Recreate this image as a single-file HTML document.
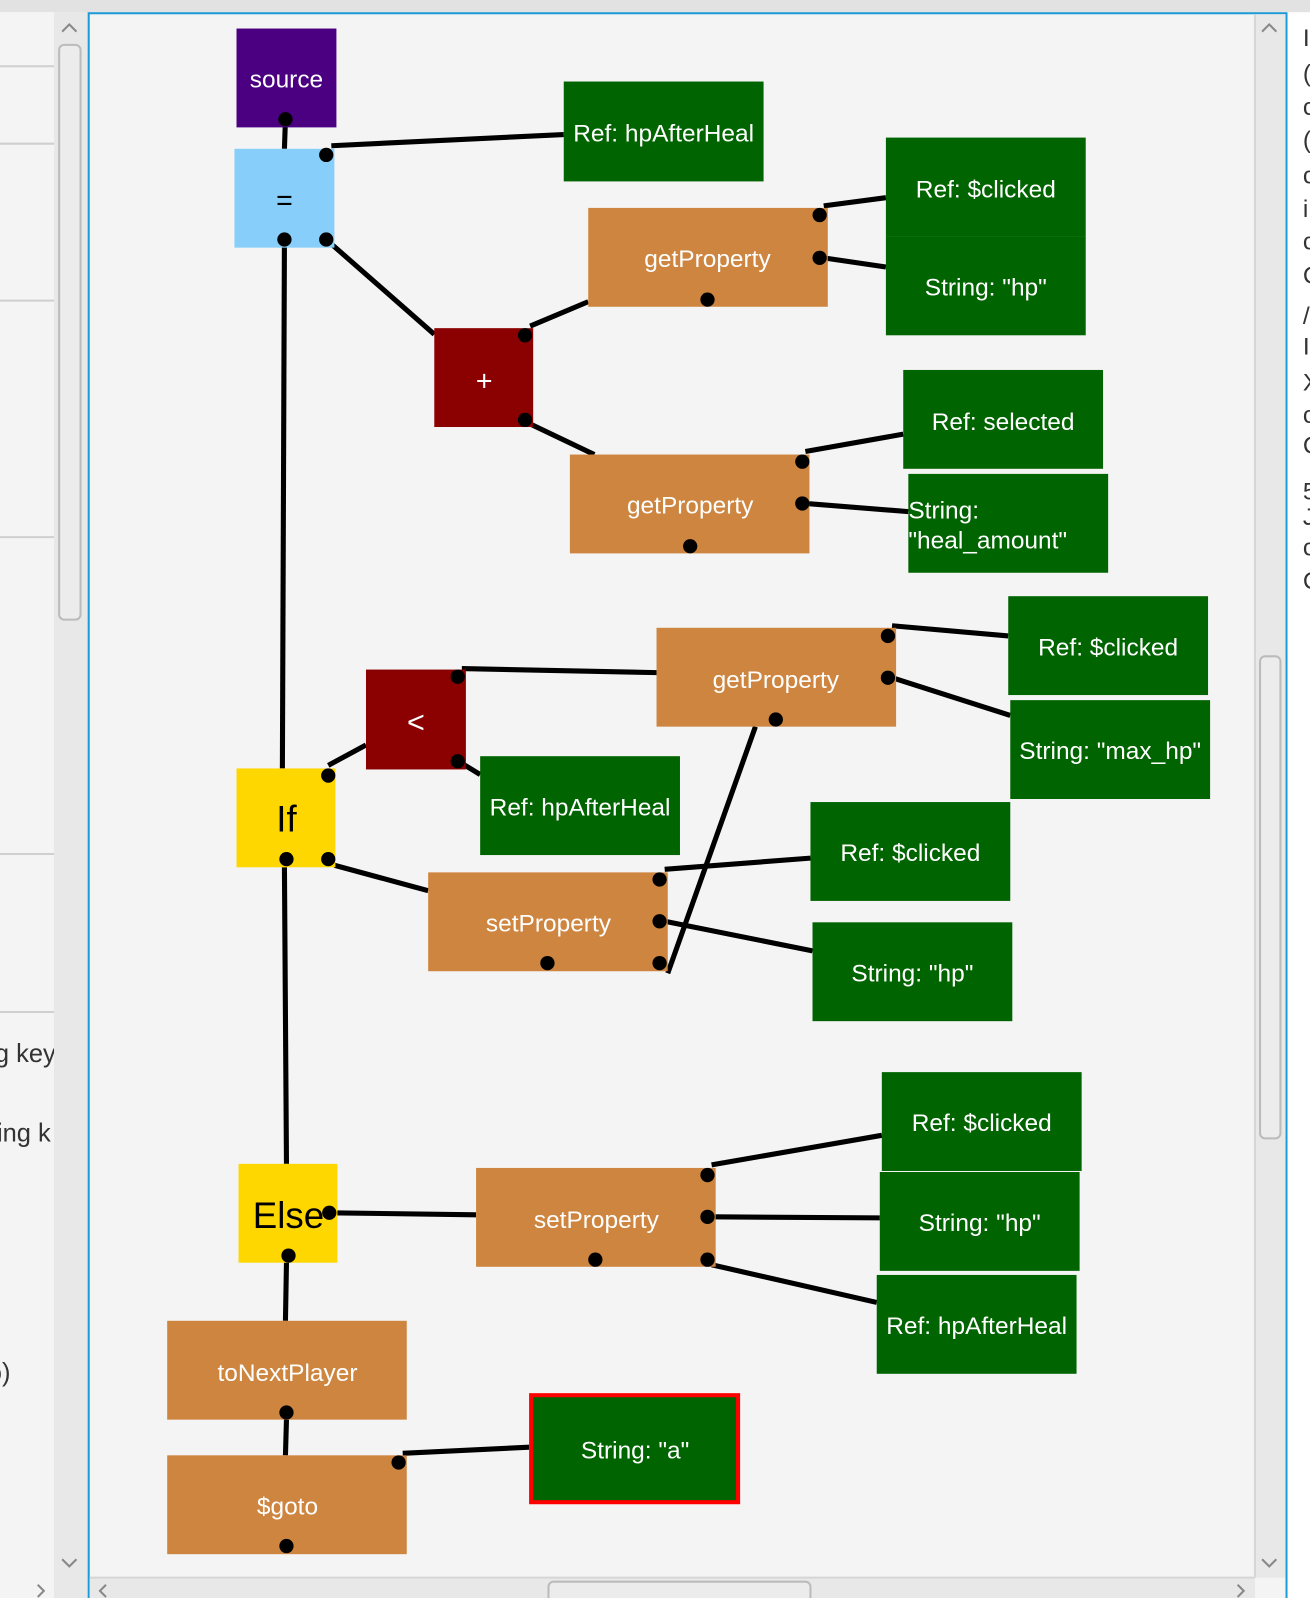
<!DOCTYPE html>
<html><head><meta charset="utf-8"><style>
html,body{margin:0;padding:0;background:#f4f4f4;overflow:hidden}
svg{display:block}
text{font-family:"Liberation Sans","DejaVu Sans",sans-serif}
</style></head><body>
<svg width="1310" height="1598" viewBox="0 0 1285 1568" preserveAspectRatio="none" xmlns="http://www.w3.org/2000/svg">
<rect x="0" y="0" width="1285" height="1568" fill="#f4f4f4"/>
<rect x="0" y="0" width="1285" height="12" fill="#e2e2e2"/>
<rect x="0" y="12" width="55" height="1556" fill="#f4f4f4"/>
<g stroke="#cfcfcf" stroke-width="2">
<line x1="0" y1="65" x2="55" y2="65"/><line x1="0" y1="141" x2="55" y2="141"/>
<line x1="0" y1="295" x2="55" y2="295"/><line x1="0" y1="527" x2="55" y2="527"/>
<line x1="0" y1="838" x2="55" y2="838"/><line x1="0" y1="993" x2="55" y2="993"/>
</g>
<g font-size="25" fill="#333">
<text x="-5" y="1042">g key</text>
<text x="-3" y="1120">ing k</text>
<text x="-12" y="1355">o)</text>
</g>
<rect x="53" y="12" width="33" height="1556" fill="#e8e8e8"/>
<rect x="58" y="44" width="21" height="564" rx="5" fill="#ececec" stroke="#bbb" stroke-width="2"/>
<path d="M61 31 L68 24 L75 31" fill="none" stroke="#888" stroke-width="2"/>
<path d="M61 1530 L68 1537 L75 1530" fill="none" stroke="#888" stroke-width="2"/>
<path d="M37 1555 L43 1561 L37 1567" fill="none" stroke="#888" stroke-width="2"/>
<rect x="87" y="13" width="1175" height="1560" fill="#f4f4f4" stroke="#1a9ad6" stroke-width="2"/>
<rect x="1231" y="14" width="30" height="1534" fill="#e8e8e8"/>
<line x1="1231" y1="14" x2="1231" y2="1548" stroke="#d6d6d6" stroke-width="2"/>
<rect x="1236" y="644" width="20" height="473" rx="5" fill="#ececec" stroke="#bbb" stroke-width="2"/>
<path d="M1238 31 L1245 24 L1252 31" fill="none" stroke="#888" stroke-width="2"/>
<path d="M1238 1530 L1245 1537 L1252 1530" fill="none" stroke="#888" stroke-width="2"/>
<rect x="88" y="1548" width="1143" height="20" fill="#e8e8e8"/>
<line x1="88" y1="1548" x2="1231" y2="1548" stroke="#d6d6d6" stroke-width="2"/>
<rect x="538" y="1552" width="257" height="20" rx="5" fill="#ececec" stroke="#bbb" stroke-width="2"/>
<path d="M104 1555 L98 1561 L104 1567" fill="none" stroke="#888" stroke-width="2"/>
<path d="M1214 1555 L1220 1561 L1214 1567" fill="none" stroke="#888" stroke-width="2"/>
<rect x="1263" y="12" width="22" height="1556" fill="#ffffff"/>
<g font-size="24" fill="#333">
<text x="1278" y="45">I</text><text x="1278" y="80">(</text><text x="1278" y="113">c</text>
<text x="1278" y="145">(</text><text x="1278" y="180">c</text><text x="1278" y="213">i</text>
<text x="1278" y="245">c</text><text x="1278" y="278">C</text><text x="1278" y="318">/</text>
<text x="1278" y="348">I</text><text x="1278" y="383">X</text><text x="1278" y="415">c</text>
<text x="1278" y="445">C</text><text x="1278" y="490">5</text><text x="1278" y="515">J</text>
<text x="1278" y="545">c</text><text x="1278" y="578">C</text>
</g>

<g stroke="#000" stroke-width="5" fill="none" stroke-linecap="butt">
<line x1="280" y1="117" x2="279" y2="146"/>
<line x1="325" y1="143" x2="553" y2="132"/>
<line x1="320" y1="235" x2="426" y2="328"/>
<line x1="279" y1="235" x2="277" y2="754"/>
<line x1="520" y1="320" x2="577" y2="296"/>
<line x1="520" y1="416" x2="583" y2="446"/>
<line x1="808" y1="202" x2="869" y2="194"/>
<line x1="808" y1="253" x2="869" y2="262"/>
<line x1="790" y1="443" x2="886" y2="426"/>
<line x1="790" y1="494" x2="891" y2="502"/>
<line x1="453" y1="656" x2="644" y2="660"/>
<line x1="453" y1="749" x2="471" y2="760"/>
<line x1="322" y1="751" x2="359" y2="731"/>
<line x1="875" y1="614" x2="989" y2="624"/>
<line x1="875" y1="665" x2="991" y2="702"/>
<line x1="741" y1="713" x2="655" y2="955"/>
<line x1="328" y1="849" x2="420" y2="874"/>
<line x1="652" y1="853" x2="795" y2="842"/>
<line x1="652" y1="904" x2="797" y2="933"/>
<line x1="279" y1="851" x2="281" y2="1142"/>
<line x1="323" y1="1190" x2="467" y2="1192"/>
<line x1="698" y1="1143" x2="865" y2="1114"/>
<line x1="698" y1="1194" x2="863" y2="1195"/>
<line x1="698" y1="1241" x2="860" y2="1278"/>
<line x1="281" y1="1239" x2="280" y2="1296"/>
<line x1="281" y1="1393" x2="280" y2="1428"/>
<line x1="395" y1="1426" x2="519" y2="1420"/>
</g>

<g font-size="24" text-anchor="middle" fill="#fff">
<rect x="232" y="28" width="98" height="97" fill="#4b0082"/><text x="281" y="86">source</text>
<rect x="230" y="146" width="98" height="97" fill="#87cefa"/><text x="279" y="206" fill="#000" font-size="28">=</text>
<rect x="553" y="80" width="196" height="98" fill="#006400"/><text x="651" y="139">Ref: hpAfterHeal</text>
<rect x="577" y="204" width="235" height="97" fill="#cd853f"/><text x="694" y="262">getProperty</text>
<rect x="869" y="135" width="196" height="97" fill="#006400"/><text x="967" y="194">Ref: $clicked</text>
<rect x="869" y="232" width="196" height="97" fill="#006400"/><text x="967" y="290">String: "hp"</text>
<rect x="426" y="322" width="97" height="97" fill="#8b0000"/><text x="475" y="383" font-size="28">+</text>
<rect x="559" y="446" width="235" height="97" fill="#cd853f"/><text x="677" y="504">getProperty</text>
<rect x="886" y="363" width="196" height="97" fill="#006400"/><text x="984" y="422">Ref: selected</text>
<rect x="891" y="465" width="196" height="97" fill="#006400"/><text x="891" y="509" text-anchor="start">String:</text><text x="891" y="538" text-anchor="start">"heal_amount"</text>
<rect x="644" y="616" width="235" height="97" fill="#cd853f"/><text x="761" y="675">getProperty</text>
<rect x="989" y="585" width="196" height="97" fill="#006400"/><text x="1087" y="643">Ref: $clicked</text>
<rect x="991" y="687" width="196" height="97" fill="#006400"/><text x="1089" y="745">String: "max_hp"</text>
<rect x="359" y="657" width="98" height="98" fill="#8b0000"/><text x="408" y="719" font-size="30">&lt;</text>
<rect x="471" y="742" width="196" height="97" fill="#006400"/><text x="569" y="800">Ref: hpAfterHeal</text>
<rect x="232" y="754" width="97" height="97" fill="#ffd700"/><text x="281" y="816" fill="#000" font-size="36">If</text>
<rect x="420" y="856" width="235" height="97" fill="#cd853f"/><text x="538" y="914">setProperty</text>
<rect x="795" y="787" width="196" height="97" fill="#006400"/><text x="893" y="845">Ref: $clicked</text>
<rect x="797" y="905" width="196" height="97" fill="#006400"/><text x="895" y="963">String: "hp"</text>
<rect x="865" y="1052" width="196" height="97" fill="#006400"/><text x="963" y="1110">Ref: $clicked</text>
<rect x="863" y="1150" width="196" height="97" fill="#006400"/><text x="961" y="1208">String: "hp"</text>
<rect x="860" y="1251" width="196" height="97" fill="#006400"/><text x="958" y="1309">Ref: hpAfterHeal</text>
<rect x="467" y="1146" width="235" height="97" fill="#cd853f"/><text x="585" y="1205">setProperty</text>
<rect x="234" y="1142" width="97" height="97" fill="#ffd700"/><text x="283" y="1205" fill="#000" font-size="36">Else</text>
<rect x="164" y="1296" width="235" height="97" fill="#cd853f"/><text x="282" y="1355">toNextPlayer</text>
<rect x="164" y="1428" width="235" height="97" fill="#cd853f"/><text x="282" y="1486">$goto</text>
<rect x="521" y="1369" width="203" height="105" fill="#006400" stroke="#ff0000" stroke-width="4"/><text x="623" y="1431">String: "a"</text>
</g>

<g fill="#000">
<circle cx="280" cy="117" r="7"/>
<circle cx="320" cy="152" r="7"/><circle cx="279" cy="235" r="7"/><circle cx="320" cy="235" r="7"/>
<circle cx="515" cy="329" r="7"/><circle cx="515" cy="412" r="7"/>
<circle cx="804" cy="211" r="7"/><circle cx="804" cy="253" r="7"/><circle cx="694" cy="294" r="7"/>
<circle cx="787" cy="453" r="7"/><circle cx="787" cy="494" r="7"/><circle cx="677" cy="536" r="7"/>
<circle cx="871" cy="624" r="7"/><circle cx="871" cy="665" r="7"/><circle cx="761" cy="706" r="7"/>
<circle cx="449" cy="664" r="7"/><circle cx="449" cy="747" r="7"/>
<circle cx="322" cy="761" r="7"/><circle cx="281" cy="843" r="7"/><circle cx="322" cy="843" r="7"/>
<circle cx="647" cy="863" r="7"/><circle cx="647" cy="904" r="7"/><circle cx="647" cy="945" r="7"/><circle cx="537" cy="945" r="7"/>
<circle cx="323" cy="1190" r="7"/><circle cx="283" cy="1232" r="7"/>
<circle cx="694" cy="1153" r="7"/><circle cx="694" cy="1194" r="7"/><circle cx="694" cy="1236" r="7"/><circle cx="584" cy="1236" r="7"/>
<circle cx="281" cy="1386" r="7"/>
<circle cx="391" cy="1435" r="7"/><circle cx="281" cy="1517" r="7"/>
</g>
</svg>
</body></html>
